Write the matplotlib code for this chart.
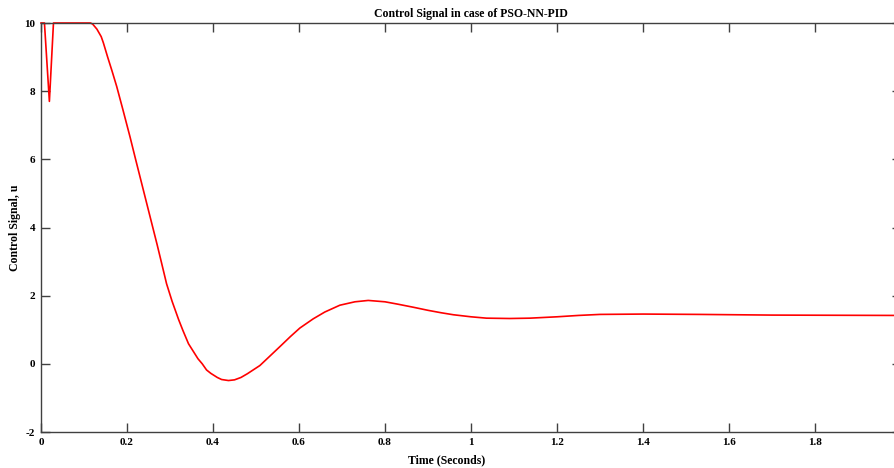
import numpy as np
import matplotlib
matplotlib.use('Agg')
import matplotlib.pyplot as plt

# values
time_s = [0, 0.008, 0.0195, 0.029, 0.05, 0.08, 0.11, 0.115, 0.12, 0.13,
          0.14, 0.145, 0.155, 0.165, 0.176, 0.19, 0.207, 0.22, 0.23, 0.24,
          0.256, 0.27, 0.28, 0.292, 0.305, 0.32, 0.33, 0.343, 0.355, 0.365,
          0.375, 0.385, 0.395, 0.41, 0.42, 0.436, 0.45, 0.465, 0.48, 0.509,
          0.53, 0.556, 0.58, 0.602, 0.633, 0.66, 0.695, 0.73, 0.761, 0.8,
          0.83, 0.866, 0.9, 0.93, 0.959, 1.0, 1.036, 1.09, 1.137, 1.2,
          1.25, 1.3, 1.4, 1.53, 1.7, 1.985]
control_u = [10, 10, 7.7, 10, 10, 10, 10, 10, 9.97, 9.82,
             9.6, 9.42, 9.0, 8.6, 8.14, 7.48, 6.66, 6.0, 5.5, 5.0,
             4.2, 3.5, 2.98, 2.35, 1.83, 1.3, 0.98, 0.59, 0.35, 0.15,
             0.0, -0.18, -0.28, -0.4, -0.46, -0.49, -0.47, -0.4, -0.29, -0.05,
             0.2, 0.51, 0.8, 1.05, 1.32, 1.52, 1.72, 1.82, 1.86, 1.82,
             1.75, 1.66, 1.57, 1.5, 1.44, 1.38, 1.34, 1.33, 1.34, 1.38,
             1.42, 1.45, 1.46, 1.45, 1.43, 1.42]

x_ticks = [0, 0.2, 0.4, 0.6, 0.8, 1, 1.2, 1.4, 1.6, 1.8, 2]
x_ticklabels = ['0', '0.2', '0.4', '0.6', '0.8', '1', '1.2', '1.4', '1.6', '1.8', '']
y_ticks = [-2, 0, 2, 4, 6, 8, 10]

plt.rcParams['font.family'] = ['Liberation Serif', 'DejaVu Serif']
plt.rcParams['font.weight'] = 'bold'
plt.rcParams['axes.unicode_minus'] = False

fig = plt.figure(figsize=(8.94, 4.68), dpi=100)
ax = fig.add_axes([41 / 894, 1 - 432 / 468, 860 / 894, 409 / 468])

ax.plot(time_s, control_u, color='red', linewidth=1.2, clip_on=False)

ax.set_xlim(0, 2)
ax.set_ylim(-2, 10)
ax.set_xticks(x_ticks)
ax.set_xticklabels(x_ticklabels)
ax.set_yticks(y_ticks)

spine_col = '#404040'
for s in ax.spines.values():
    s.set_color(spine_col)
    s.set_linewidth(1.0)
ax.tick_params(direction='in', length=6.3, width=1.0, color=spine_col,
               top=True, right=True, labelsize=8, pad=4)
for lbl in ax.get_xticklabels() + ax.get_yticklabels():
    lbl.set_fontweight('bold')

ax.set_title('Control Signal in case of PSO-NN-PID', fontsize=8.5,
             fontweight='bold', pad=4)
ax.set_xlabel('Time (Seconds)', fontsize=8.5, fontweight='bold')
ax.set_ylabel('Control Signal, u', fontsize=8.5, fontweight='bold')
ax.xaxis.set_label_coords((447 - 41) / 860, -0.055)
ax.yaxis.set_label_coords(-20 / 860, 0.5)

fig.savefig('out.png', dpi=100)
